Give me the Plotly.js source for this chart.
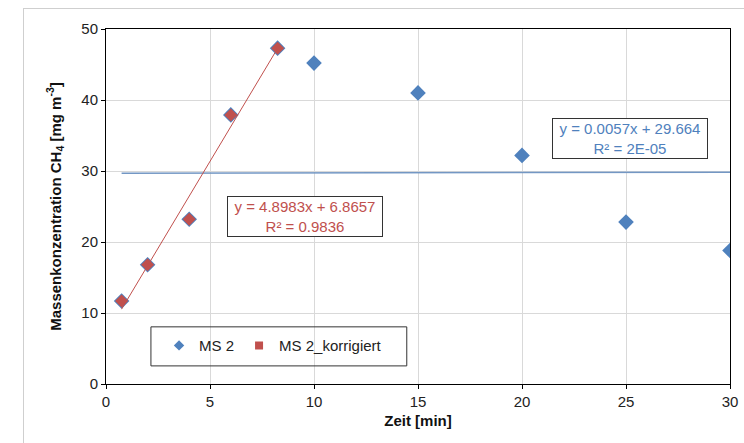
<!DOCTYPE html>
<html><head><meta charset="utf-8">
<script src="https://cdn.plot.ly/plotly-3.0.1.min.js"></script>
<style>
html,body{margin:0;padding:0;background:#fff;}
#frame{position:absolute;left:23px;top:8px;width:740px;height:450px;border:1px solid #cfcfcf;box-sizing:border-box;pointer-events:none;z-index:5;}
#plot{position:absolute;left:0;top:0;width:744px;height:443px;}
</style></head>
<body>
<div id="plot"></div>
<div id="frame"></div>
<script>
// MS 2 (all measured points)
const ms2X = [0.75, 2, 4, 6, 8.25, 10, 15, 20, 25, 30];
const ms2Y = [11.7, 16.8, 23.2, 37.9, 47.3, 45.2, 41.0, 32.2, 22.8, 18.8];
// MS 2_korrigiert
const korrX = [0.75, 2, 4, 6, 8.25];
const korrY = [11.7, 16.8, 23.2, 37.9, 47.3];
// linear trend coefficients shown in the chart
const ms2Fit = {slope: 0.0057, intercept: 29.664, r2: "2E-05"};
const korrFit = {slope: 4.8983, intercept: 6.8657, r2: "0.9836"};

const blue = '#4F81BD', red = '#C0504D';
function lineFrom(xs, fit){
  const x0 = Math.min(...xs), x1 = Math.max(...xs);
  return {x:[x0,x1], y:[fit.slope*x0+fit.intercept, fit.slope*x1+fit.intercept]};
}
const t1 = lineFrom(ms2X, ms2Fit), t2 = lineFrom(korrX, korrFit);

const traces = [
  {x:ms2X, y:ms2Y, type:'scatter', mode:'markers', showlegend:false,
   marker:{symbol:'diamond', size:12, color:blue}},
  {x:t1.x, y:t1.y, type:'scatter', mode:'lines', showlegend:false,
   line:{color:'#7397c4', width:1.5}},
  {x:korrX, y:korrY, type:'scatter', mode:'markers', showlegend:false,
   marker:{symbol:'diamond', size:10, color:red}},
  {x:t2.x, y:t2.y, type:'scatter', mode:'lines', showlegend:false,
   line:{color:red, width:1}},
  {x:[null], y:[null], type:'scatter', mode:'markers', name:'MS 2',
   marker:{symbol:'diamond', size:8, color:blue}},
  {x:[null], y:[null], type:'scatter', mode:'markers', name:'MS 2_korrigiert',
   marker:{symbol:'square', size:8, color:red}}
];

const font = 'Arial, "Liberation Sans", sans-serif';
const layout = {
  width:744, height:443,
  margin:{l:106, r:14, t:29, b:59},
  paper_bgcolor:'#fff', plot_bgcolor:'#fff',
  font:{family:font, size:15, color:'#222'},
  xaxis:{range:[0,30], dtick:5, showgrid:true, gridcolor:'#d9d9d9', gridwidth:1,
    zeroline:false, showline:true, linecolor:'#000', linewidth:1, mirror:true,
    ticks:'outside', ticklen:4, tickcolor:'#000', tickfont:{size:15, color:'#222'},
    title:{text:'<b>Zeit [min]</b>', font:{size:15, color:'#111'}, standoff:6}},
  yaxis:{range:[0,50], dtick:10, showgrid:true, gridcolor:'#d9d9d9', gridwidth:1,
    zeroline:false, showline:true, linecolor:'#000', linewidth:1, mirror:true,
    ticks:'outside', ticklen:4, tickcolor:'#000', tickfont:{size:15, color:'#222'},
    title:{text:'<b>Massenkonzentration CH<sub>4</sub> [mg m<sup>-3</sup>]</b>', font:{size:15, color:'#111'}, standoff:16}},
  showlegend:true,
  legend:{orientation:'h', x:0.085, y:0.108, xanchor:'left', yanchor:'middle',
    bgcolor:'rgba(0,0,0,0)', borderwidth:0, font:{size:15, color:'#222'}},
  shapes:[
    {type:'rect', xref:'paper', yref:'paper', x0:0.072, x1:0.482, y0:0.051, y1:0.161,
     line:{color:'#333', width:1}, fillcolor:'rgba(0,0,0,0)'}
  ],
  annotations:[
    {xref:'paper', yref:'paper', x:0.3197, y:0.4718, xanchor:'center', yanchor:'middle',
     text:'y = '+korrFit.slope+'x + '+korrFit.intercept+'<br>R² = '+korrFit.r2,
     showarrow:false, align:'center', font:{size:15, color:red},
     bordercolor:'#333', borderwidth:1, borderpad:1, width:152, bgcolor:'#fff'},
    {xref:'paper', yref:'paper', x:0.839, y:0.6915, xanchor:'center', yanchor:'middle',
     text:'y = '+ms2Fit.slope+'x + '+ms2Fit.intercept+'<br>R² = '+ms2Fit.r2,
     showarrow:false, align:'center', font:{size:15, color:blue},
     bordercolor:'#333', borderwidth:1, borderpad:1, width:152, bgcolor:'#fff'}
  ]
};
Plotly.newPlot('plot', traces, layout, {displayModeBar:false, staticPlot:true});
</script>
</body></html>
